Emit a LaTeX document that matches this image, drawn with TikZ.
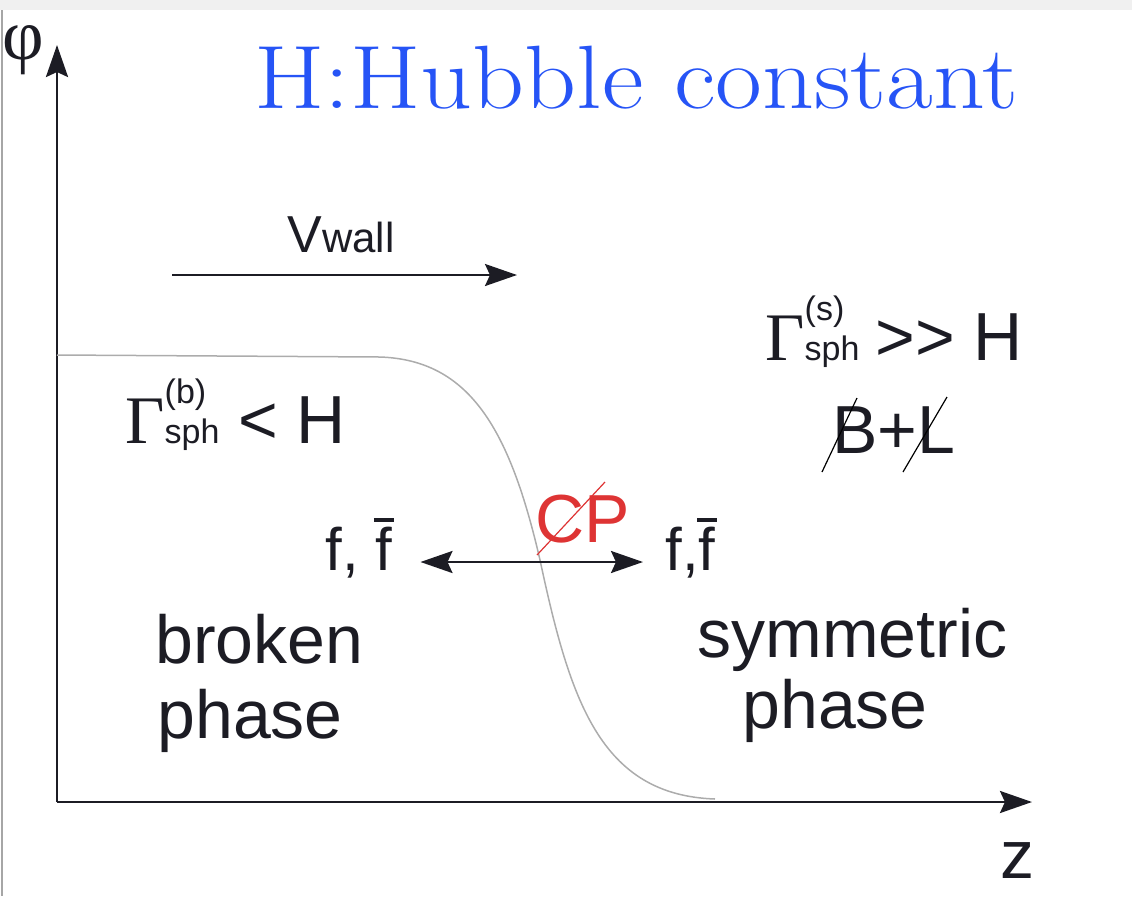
\documentclass[tikz,border=0pt]{standalone}
\usepackage[no-math]{fontspec}
\setsansfont{Liberation Sans}
\newfontfamily\grkfont{Liberation Serif}
\usetikzlibrary{arrows.meta}
\definecolor{hubblue}{RGB}{38,84,246}
\definecolor{cpred}{RGB}{222,52,52}
\definecolor{ink}{RGB}{28,28,36}
\newcommand{\setfs}[1]{\fontsize{#1}{#1}\selectfont}
\newcommand{\gsph}[1]{{\grkfont Γ}\rlap{\raisebox{20pt}{\setfs{17pt}(#1)}}{\setfs{17pt}sph}}
\newcommand{\fbar}{\ooalign{f\cr\hidewidth\raisebox{0.8em}{\rule{0.33em}{0.07em}}\hidewidth\cr}}

\begin{document}
\begin{tikzpicture}[x=0.5pt, y=-0.5pt, >={Stealth[length=16pt, width=11pt, inset=2.5pt]},
  lbl/.style={inner sep=0pt, anchor=base west, text=ink, font=\sffamily\setfs{34pt}},
  ax/.style={->, line width=1.4pt, ink},
  slash/.style={line width=0.6pt}]
\useasboundingbox (0,0) rectangle (1132,896);
\fill[gray!12] (0,0) rectangle (1132,10);
\draw[gray!70, line width=1pt] (1.5,10) -- (1.5,896);

\coordinate (O) at (57,802);
\coordinate (ytip) at (57,45);
\coordinate (xtip) at (1032,802);
\draw[ax] (O) -- (ytip);
\draw[ax] (O) -- (xtip);
\node[inner sep=0pt, text=ink, font=\grkfont\setfs{36pt}] (phi) at (23,50) {φ};
\node[lbl, font=\sffamily\setfs{34pt}] (zlab) at (1000,878) {z};

\node[lbl, anchor=base west, text=hubblue, font=\rmfamily\setfs{45pt}] (hub) at (254,108) {\scalebox{1.13}[1]{H:Hubble constant}};

\node[lbl] (vw) at (287,252) {{\setfs{26pt}V}{\setfs{21pt}wall}};
\coordinate (wl) at (172,275);
\coordinate (wr) at (517,275);
\draw[->, line width=1.2pt, ink] (wl) -- (wr);

\draw[gray!65, line width=0.75pt] (O |- 0,355) -- (380,357)
  .. controls (470,360) and (510,430) .. (540,560)
  .. controls (570,700) and (600,795) .. (715,799);

\node[lbl] (gb) at (125,443) {\gsph{b} < H};
\node[lbl] (gs) at (765,360) {\gsph{s}\hspace{8pt}>{}>\ H};
\node[lbl] (bl) at (832,453) {B+L};
\draw[slash] (822,472) -- (857,398);
\draw[slash] (903,472) -- (947,397);

\node[lbl, text=cpred] (cp) at (535,542) {CP};
\draw[slash, cpred] (537,555) -- (605,482);

\node[lbl, font=\sffamily\setfs{30pt}] (fl) at (325,570) {f, \fbar};
\node[lbl, font=\sffamily\setfs{30pt}] (fr) at (665,570) {f,\fbar};
\draw[<->, line width=1.3pt, ink, shorten <=14pt, shorten >=11pt]
  ([yshift=4pt]fl.base east) -- ([yshift=4pt]fr.base west);

\node[lbl] (brk) at (155,663) {broken};
\node[lbl] (brkph) at (157,738) {phase};
\node[lbl] (sym) at (697,657) {symmetric};
\node[lbl] (symph) at (742,728) {phase};
\end{tikzpicture}
\end{document}
